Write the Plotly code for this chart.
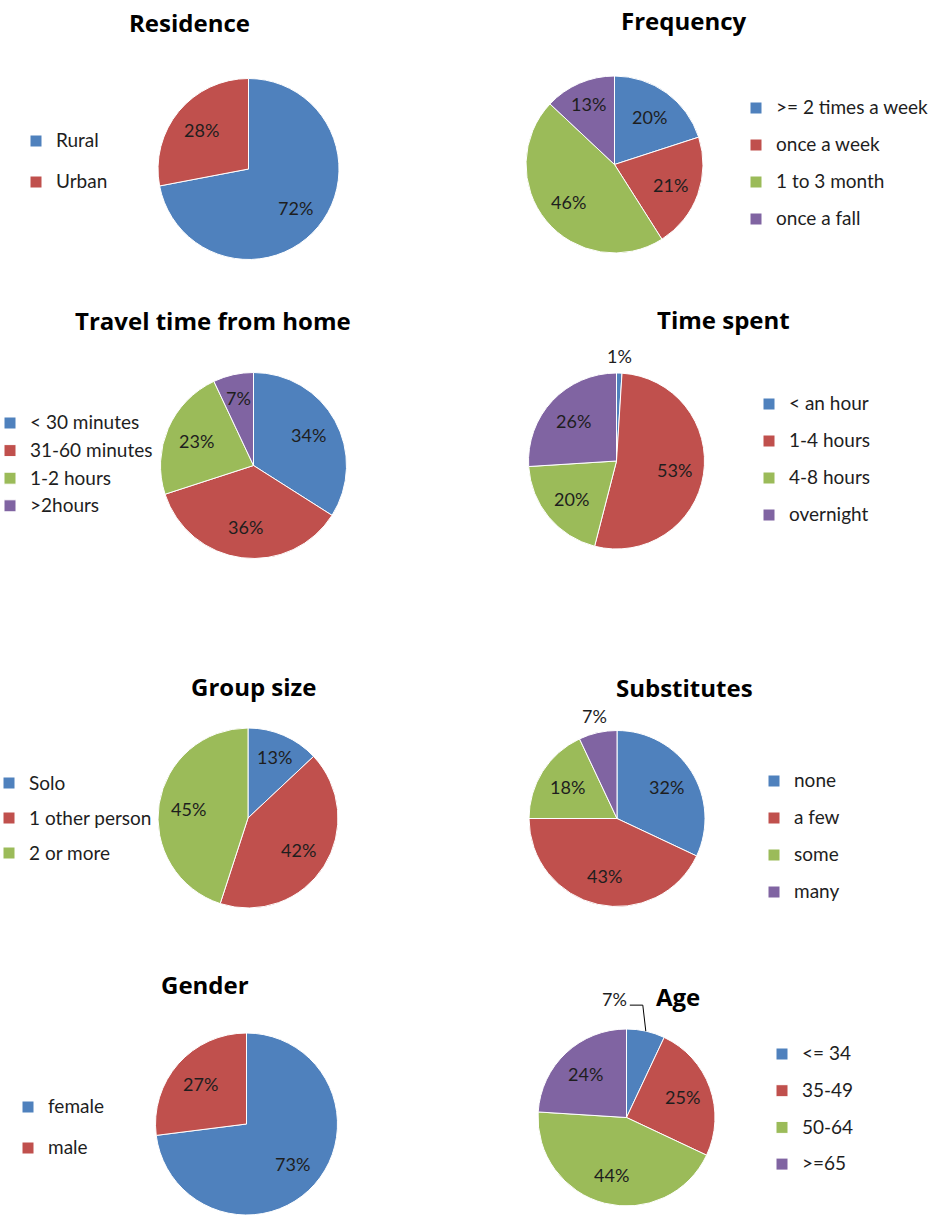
import math
import plotly.graph_objects as go

# ---------------- data ----------------
residence_labels = ["Rural", "Urban"]
residence_values = [72, 28]

frequency_labels = [">= 2 times a week", "once a week", "1 to 3 month", "once a fall"]
frequency_values = [20, 21, 46, 13]

travel_labels = ["< 30 minutes", "31-60 minutes", "1-2 hours", ">2hours"]
travel_values = [34, 36, 23, 7]

timespent_labels = ["< an hour", "1-4 hours", "4-8 hours", "overnight"]
timespent_values = [1, 53, 20, 26]

group_labels = ["Solo", "1 other person", "2 or more"]
group_values = [13, 42, 45]

substitutes_labels = ["none", "a few", "some", "many"]
substitutes_values = [32, 43, 18, 7]

gender_labels = ["female", "male"]
gender_values = [73, 27]

age_labels = ["<= 34", "35-49", "50-64", ">=65"]
age_values = [7, 25, 44, 24]

# ---------------- layout / style ----------------
PAGE_W, PAGE_H = 932, 1215
OFFX = -16                   # figure is shifted left on the page by this amount
W, H = PAGE_W - OFFX, PAGE_H

COLORS = ["#4F81BD", "#C0504D", "#9BBB59", "#8064A2"]
FONT = "Lato, 'Open Sans', sans-serif"
TITLE_FONT = "'Open Sans', Lato, sans-serif"
TEXT_SIZE = 18
TITLE_SIZE = 24
LEG_TEXT = 19
LABEL_COLOR = "#1e1e1e"

charts = [
    dict(title="Residence", labels=residence_labels, values=residence_values,
         cx=248.5, cy=169, r=90.5, tx=189, ty=22, sq=35, row1=141, gap=41, outside=[]),
    dict(title="Frequency", labels=frequency_labels, values=frequency_values,
         cx=614.5, cy=164.5, r=88.5, tx=684, ty=20, sq=755, row1=108, gap=37, outside=[]),
    dict(title="Travel time from home", labels=travel_labels, values=travel_values,
         cx=253.5, cy=465.5, r=93, tx=213, ty=320, sq=9, row1=423, gap=27.6, outside=[]),
    dict(title="Time spent", labels=timespent_labels, values=timespent_values,
         cx=616.5, cy=461, r=88, tx=723, ty=319, sq=768, row1=404, gap=37, outside=[0]),
    dict(title="Group size", labels=group_labels, values=group_values,
         cx=248, cy=818, r=90, tx=253, ty=686, sq=8, row1=783, gap=35, outside=[]),
    dict(title="Substitutes", labels=substitutes_labels, values=substitutes_values,
         cx=617, cy=818.5, r=88, tx=684, ty=687, sq=773, row1=781, gap=37, outside=[3]),
    dict(title="Gender", labels=gender_labels, values=gender_values,
         cx=246.5, cy=1124, r=91, tx=205, ty=984, sq=27, row1=1107, gap=41, outside=[]),
    dict(title="Age", labels=age_labels, values=age_values,
         cx=626.5, cy=1117.5, r=88.5, tx=678, ty=997, sq=781, row1=1054, gap=36.7,
         outside=[], leader=[0]),
]

fig = go.Figure()
annotations = []
shapes = []
layout_legends = {}


def px(x):
    return min(1.0, max(0.0, (x - OFFX) / W))


def py(y):
    return min(1.0, max(0.0, 1 - y / H))


def label(text, x, y, xanchor="center"):
    return dict(text=text, x=px(x), y=py(y), xref="paper", yref="paper",
                showarrow=False, xanchor=xanchor, yanchor="middle",
                font=dict(family=FONT, size=TEXT_SIZE, color=LABEL_COLOR))


for i, c in enumerate(charts):
    lid = "legend" if i == 0 else f"legend{i + 1}"
    n = len(c["values"])

    # legend font size chosen so that entry height equals desired row gap
    F = (c["gap"] - 3) / 1.3
    shift = 0.39 * F - 0.34 * LEG_TEXT
    disp = [f"<span style='font-size:{LEG_TEXT}px;baseline-shift:{shift:.1f}px'>{l}</span>"
            for l in c["labels"]]

    fig.add_trace(go.Pie(
        labels=disp,
        values=c["values"],
        sort=False,
        direction="clockwise",
        rotation=0,
        marker=dict(colors=COLORS[:n], line=dict(color="white", width=1)),
        textinfo="none",
        textposition="none",
        domain=dict(x=[px(c["cx"] - c["r"]), px(c["cx"] + c["r"])],
                    y=[py(c["cy"] + c["r"]), py(c["cy"] - c["r"])]),
        legend=lid,
        hoverinfo="label+percent",
        showlegend=True,
    ))

    h = c["gap"]
    layout_legends[lid] = dict(
        x=px(c["sq"] - 5 - 14), xanchor="left",
        y=py(c["row1"] - 5 - h / 2), yanchor="top",
        font=dict(family=FONT, size=F, color=LABEL_COLOR),
        bgcolor="rgba(0,0,0,0)", borderwidth=0,
        orientation="v",
    )

    annotations.append(dict(
        text=f"<b>{c['title']}</b>", x=px(c["tx"]), y=py(c["ty"]),
        xref="paper", yref="paper", showarrow=False,
        font=dict(family=TITLE_FONT, size=TITLE_SIZE, color="#000000"),
        xanchor="center", yanchor="middle",
    ))

    total = sum(c["values"])
    cum = 0
    for k, v in enumerate(c["values"]):
        share = v / total
        a = (cum + v / 2) / total * 2 * math.pi
        cum += v
        pct = f"{round(share * 100)}%"
        sa, ca = math.sin(a), math.cos(a)
        if k in c["outside"]:
            rr = c["r"] + 17
            annotations.append(label(pct, c["cx"] + rr * sa, c["cy"] - rr * ca))
        elif k in c.get("leader", []):
            rimx = c["cx"] + c["r"] * sa
            rimy = c["cy"] - c["r"] * ca
            ex, ey = rimx - 3, rimy - 26
            sx = ex - 13
            shapes.append(dict(
                type="path", xref="paper", yref="paper",
                path=f"M {px(sx)} {py(ey)} L {px(ex)} {py(ey)} L {px(rimx)} {py(rimy)}",
                line=dict(color="#000000", width=1),
            ))
            annotations.append(label(pct, sx - 1, ey - 6, xanchor="right"))
        else:
            f = 0.74 if share < 0.15 else 0.67
            rr = c["r"] * f
            annotations.append(label(pct, c["cx"] + rr * sa, c["cy"] - rr * ca))

fig.update_layout(
    width=W, height=H,
    margin=dict(l=0, r=0, t=0, b=0, autoexpand=False),
    paper_bgcolor="white", plot_bgcolor="white",
    annotations=annotations,
    shapes=shapes,
    **layout_legends,
)

page_css = (
    "document.body.style.margin='0';"
    "document.body.style.overflow='hidden';"
    f"document.getElementById('{{plot_id}}').style.marginLeft='{OFFX}px';"
)

fig.write_html("out.html", post_script=page_css, config={"displayModeBar": False})
